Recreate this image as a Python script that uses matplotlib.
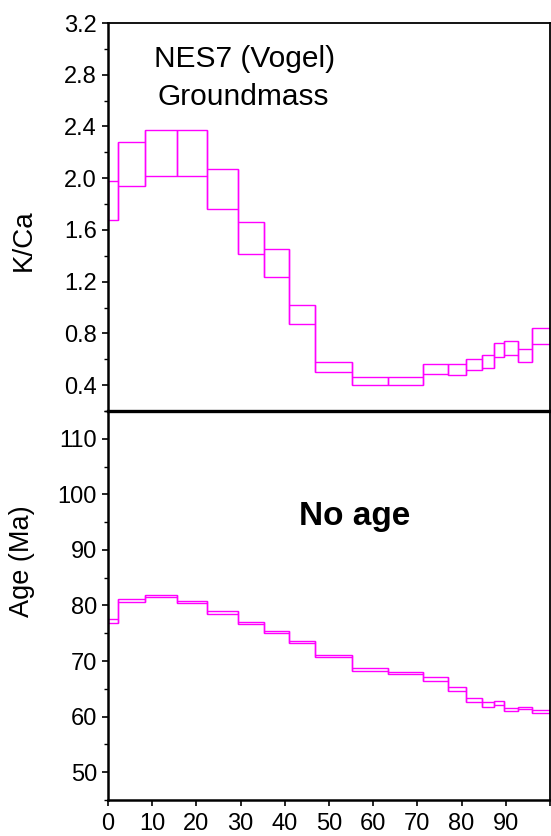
import matplotlib
matplotlib.use("Agg")
import matplotlib.pyplot as plt
from matplotlib.ticker import MultipleLocator, FixedLocator

# cumulative %39Ar step edges
edges = [0, 2.3, 8.4, 15.5, 22.5, 29.3, 35.3, 41.0, 46.8, 55.1, 63.4,
         71.3, 77.0, 81.1, 84.7, 87.3, 89.6, 92.8, 96.0, 100]

# K/Ca upper / lower bounds per step
kca_hi = [1.98, 2.28, 2.37, 2.37, 2.07, 1.66, 1.45, 1.02, 0.58, 0.465, 0.465,
          0.565, 0.563, 0.60, 0.63, 0.723, 0.738, 0.68, 0.84]
kca_lo = [1.676, 1.937, 2.017, 2.014, 1.764, 1.416, 1.236, 0.872, 0.499, 0.398,
          0.398, 0.485, 0.478, 0.514, 0.534, 0.617, 0.632, 0.581, 0.715]

# apparent age (Ma) upper / lower bounds per step
age_hi = [77.6, 81.1, 81.9, 80.75, 78.95, 76.97, 75.35, 73.6, 71.1, 68.7, 68.0,
          67.06, 65.3, 63.4, 62.55, 62.9, 61.6, 61.8, 61.2]
age_lo = [76.8, 80.7, 81.5, 80.4, 78.5, 76.6, 75.0, 73.2, 70.7, 68.15, 67.6,
          66.5, 64.7, 62.7, 61.8, 62.1, 61.05, 61.3, 60.6]

x_ticks = [0, 10, 20, 30, 40, 50, 60, 70, 80, 90, 100]
x_labels = ["0", "10", "20", "30", "40", "50", "60", "70", "80", "90", ""]

COLOR = "#ff00ff"
plt.rcParams["font.family"] = ["Liberation Sans", "DejaVu Sans"]

W, H = 551, 836
fig = plt.figure(figsize=(W / 100, H / 100), dpi=100)

left, right = 108 / W, 550 / W
ax_top = fig.add_axes([left, 1 - 411 / H, right - left, 388 / H])
ax_bot = fig.add_axes([left, 1 - 800 / H, right - left, 389 / H])


def draw_steps(ax, hi, lo):
    ax.stairs(hi, edges, baseline=None, color=COLOR, lw=1.0)
    ax.stairs(lo, edges, baseline=None, color=COLOR, lw=1.0)
    ax.vlines(edges[:-1], lo, hi, color=COLOR, lw=1.0)
    ax.vlines(edges[1:], lo, hi, color=COLOR, lw=1.0)


draw_steps(ax_top, kca_hi, kca_lo)
draw_steps(ax_bot, age_hi, age_lo)

for ax in (ax_top, ax_bot):
    ax.set_xlim(0, 100)
    for s in ax.spines.values():
        s.set_linewidth(1.3)
    ax.spines["left"].set_linewidth(1.8)
    ax.tick_params(axis="y", which="major", direction="out", length=4,
                   width=1.2, labelsize=17, pad=4)
    ax.tick_params(axis="y", which="minor", direction="out", length=3,
                   width=1.0)

# top panel
ax_top.set_ylim(0.2, 3.2)
ax_top.yaxis.set_minor_locator(FixedLocator([0.2 + 0.4 * i for i in range(8)]))
ax_top.set_yticks([0.4, 0.8, 1.2, 1.6, 2.0, 2.4, 2.8, 3.2])
ax_top.yaxis.set_major_formatter(plt.FuncFormatter(lambda v, p: f"{v:.1f}"))
ax_top.tick_params(axis="x", bottom=False, labelbottom=False)
ax_top.spines["bottom"].set_visible(False)
ax_top.text(0.308, 0.8866, "NES7 (Vogel)", transform=ax_top.transAxes,
            ha="center", va="baseline", fontsize=21.5)
ax_top.text(0.305, 0.7887, "Groundmass", transform=ax_top.transAxes,
            ha="center", va="baseline", fontsize=21.5)

# bottom panel
ax_bot.set_ylim(45, 115)
ax_bot.yaxis.set_minor_locator(MultipleLocator(5))
ax_bot.set_yticks([50, 60, 70, 80, 90, 100, 110])
ax_bot.spines["top"].set_linewidth(2.4)
ax_bot.spines["bottom"].set_linewidth(1.8)
ax_bot.set_xticks(x_ticks)
ax_bot.set_xticklabels(x_labels)
ax_bot.tick_params(axis="x", direction="out", length=4, width=1.2,
                   labelsize=17, pad=5)
ax_bot.text(0.558, 0.707, "No age", transform=ax_bot.transAxes,
            ha="center", va="baseline", fontsize=24, fontweight="bold")

fig.text(24 / W, 1 - 240 / H, "K/Ca", rotation=90, ha="center", va="center",
         fontsize=20)
fig.text(22 / W, 1 - 561 / H, "Age (Ma)", rotation=90, ha="center",
         va="center", fontsize=19.5)

fig.savefig("out.png", dpi=100)
